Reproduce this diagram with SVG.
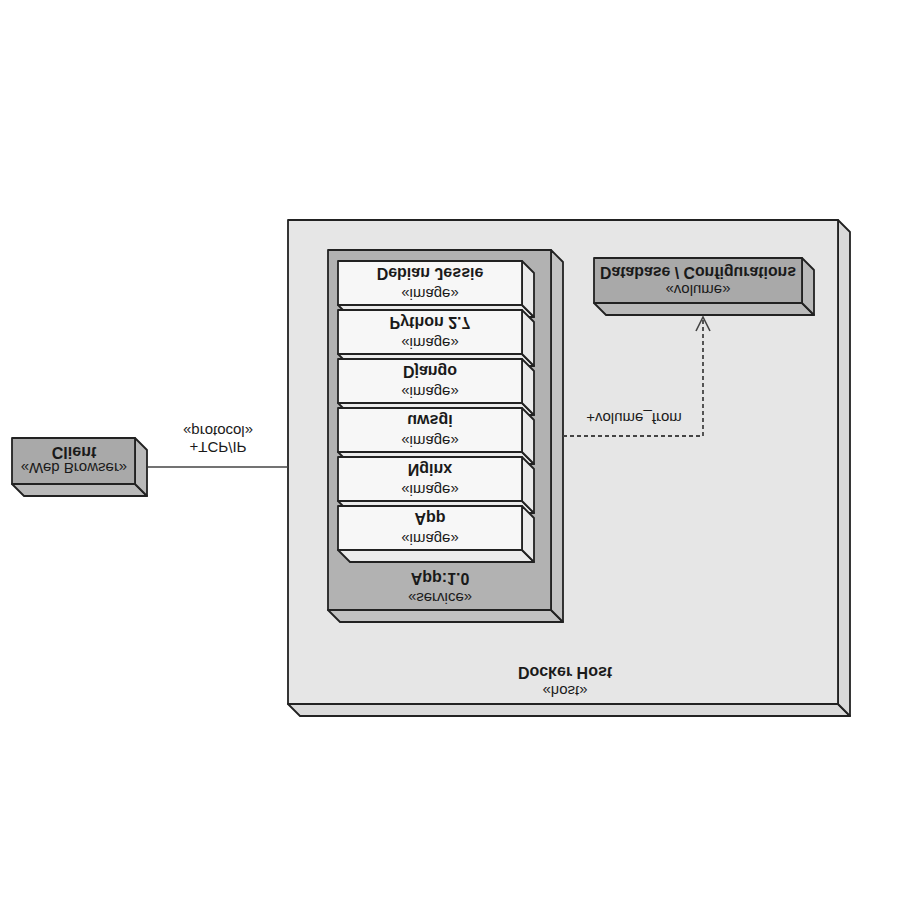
<svg xmlns="http://www.w3.org/2000/svg" width="900" height="900" viewBox="0 0 900 900">
<style>
.edge{stroke:#222;stroke-width:1.8;stroke-linejoin:round}
.host{fill:#e6e6e6}.hostd{fill:#dadada}
.svc{fill:#b2b2b2}.svcd{fill:#c2c2c2}
.img{fill:#f7f7f7}.imgd{fill:#ebebeb}
.dark{fill:#a9a9a9}.darkd{fill:#b9b9b9}
.nm{font-family:"Liberation Sans",Arial,sans-serif;font-size:16px;font-weight:bold;fill:#1a1a1a;text-anchor:middle}
.st{font-family:"Liberation Sans",Arial,sans-serif;font-size:15px;fill:#1a1a1a;text-anchor:middle}
.lb{font-family:"Liberation Sans",Arial,sans-serif;font-size:15px;fill:#1a1a1a;text-anchor:middle}
.conn{fill:none;stroke:#444;stroke-width:1.6}
.dash{fill:none;stroke:#444;stroke-width:1.8;stroke-dasharray:4 3}
</style>
<rect width="900" height="900" fill="#ffffff"/>

<g id="docker-host">
  <polygon class="hostd edge" points="288,704 838,704 850,716 300,716"/>
  <polygon class="hostd edge" points="838,220 850,232 850,716 838,704"/>
  <rect class="host edge" x="288" y="220" width="550" height="484"/>
  <text class="nm" transform="translate(565,667) scale(1,-1)">Docker Host</text>
  <text class="st" transform="translate(565,686) scale(1,-1)">«host»</text>
</g>

<g id="service">
  <polygon class="svcd edge" points="328,610 551,610 563,622 340,622"/>
  <polygon class="svcd edge" points="551,250 563,262 563,622 551,610"/>
  <rect class="svc edge" x="328" y="250" width="223" height="360"/>
  <text class="nm" transform="translate(440,573) scale(1,-1)">App:1.0</text>
  <text class="st" transform="translate(440,593) scale(1,-1)">«service»</text>
</g>

<g id="img-debian">
  <polygon class="imgd edge" points="338,305 522,305 534,317 350,317"/>
  <polygon class="imgd edge" points="522,261 534,273 534,317 522,305"/>
  <rect class="img edge" x="338" y="261" width="184" height="44"/>
  <text class="nm" transform="translate(430,268) scale(1,-1)">Debian Jessie</text>
  <text class="st" transform="translate(430,289) scale(1,-1)">«image»</text>
</g>
<g id="img-python">
  <polygon class="imgd edge" points="338,354 522,354 534,366 350,366"/>
  <polygon class="imgd edge" points="522,310 534,322 534,366 522,354"/>
  <rect class="img edge" x="338" y="310" width="184" height="44"/>
  <text class="nm" transform="translate(430,317) scale(1,-1)">Python 2.7</text>
  <text class="st" transform="translate(430,338) scale(1,-1)">«image»</text>
</g>
<g id="img-django">
  <polygon class="imgd edge" points="338,403 522,403 534,415 350,415"/>
  <polygon class="imgd edge" points="522,359 534,371 534,415 522,403"/>
  <rect class="img edge" x="338" y="359" width="184" height="44"/>
  <text class="nm" transform="translate(430,366) scale(1,-1)">Django</text>
  <text class="st" transform="translate(430,387) scale(1,-1)">«image»</text>
</g>
<g id="img-uwsgi">
  <polygon class="imgd edge" points="338,452 522,452 534,464 350,464"/>
  <polygon class="imgd edge" points="522,408 534,420 534,464 522,452"/>
  <rect class="img edge" x="338" y="408" width="184" height="44"/>
  <text class="nm" transform="translate(430,415) scale(1,-1)">uwsgi</text>
  <text class="st" transform="translate(430,436) scale(1,-1)">«image»</text>
</g>
<g id="img-nginx">
  <polygon class="imgd edge" points="338,501 522,501 534,513 350,513"/>
  <polygon class="imgd edge" points="522,457 534,469 534,513 522,501"/>
  <rect class="img edge" x="338" y="457" width="184" height="44"/>
  <text class="nm" transform="translate(430,464) scale(1,-1)">Nginx</text>
  <text class="st" transform="translate(430,485) scale(1,-1)">«image»</text>
</g>
<g id="img-app">
  <polygon class="imgd edge" points="338,550 522,550 534,562 350,562"/>
  <polygon class="imgd edge" points="522,506 534,518 534,562 522,550"/>
  <rect class="img edge" x="338" y="506" width="184" height="44"/>
  <text class="nm" transform="translate(430,513) scale(1,-1)">App</text>
  <text class="st" transform="translate(430,534) scale(1,-1)">«image»</text>
</g>

<g id="database">
  <polygon class="darkd edge" points="594,303 802,303 814,315 606,315"/>
  <polygon class="darkd edge" points="802,258 814,270 814,315 802,303"/>
  <rect class="dark edge" x="594" y="258" width="208" height="45"/>
  <text class="nm" transform="translate(698,267) scale(1,-1)" textLength="196" lengthAdjust="spacingAndGlyphs">Database / Configurations</text>
  <text class="st" transform="translate(698,285) scale(1,-1)">«volume»</text>
</g>

<g id="client">
  <polygon class="darkd edge" points="12,484 135,484 147,496 24,496"/>
  <polygon class="darkd edge" points="135,438 147,450 147,496 135,484"/>
  <rect class="dark edge" x="12" y="438" width="123" height="46"/>
  <text class="nm" transform="translate(74,447) scale(1,-1)">Client</text>
  <text class="st" transform="translate(74,463) scale(1,-1)">«Web Browser»</text>
</g>

<g id="connectors">
  <line class="conn" x1="148" y1="467" x2="288" y2="467"/>
  <text class="lb" transform="translate(218,426) scale(1,-1)">«protocol»</text>
  <text class="lb" transform="translate(218,442) scale(1,-1)">+TCP/IP</text>
  <polyline class="dash" points="563,436 703,436 703,318"/>
  <polyline class="conn" points="696,331 703,317 710,331"/>
  <text class="lb" transform="translate(634,413) scale(1,-1)">+volume_from</text>
</g>
</svg>
